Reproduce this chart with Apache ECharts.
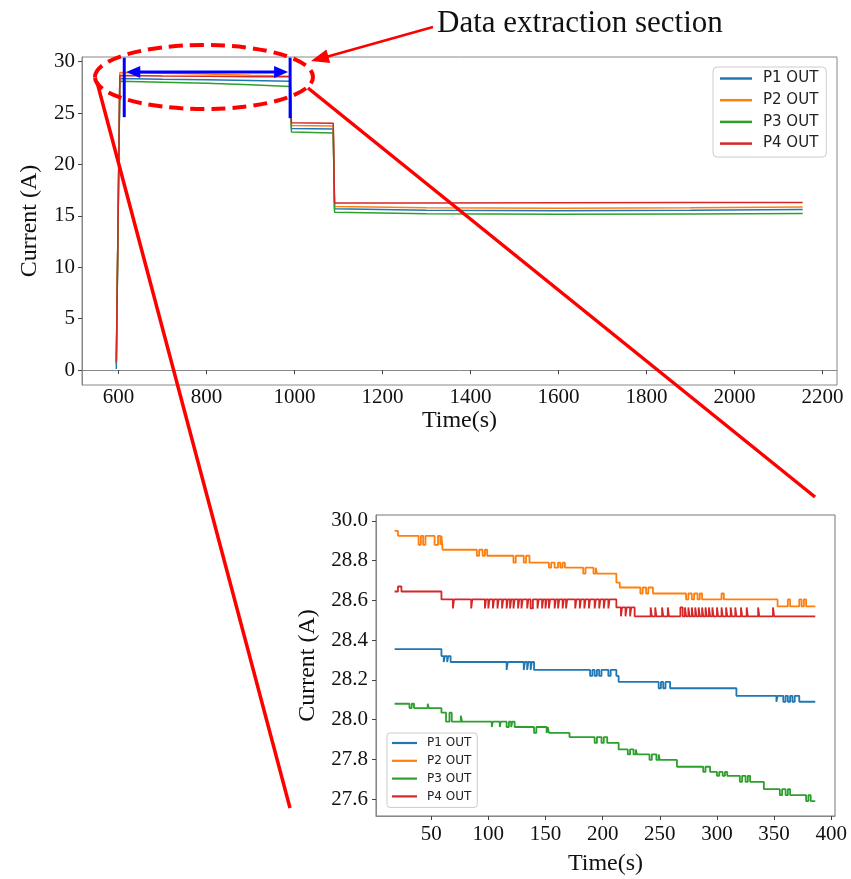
<!DOCTYPE html>
<html>
<head>
<meta charset="utf-8">
<script src="https://cdn.jsdelivr.net/npm/echarts@6/dist/echarts.min.js"></script>
<style>html,body{margin:0;padding:0;background:#fff}#c{width:851px;height:879px}</style>
</head>
<body>
<div id="c"></div>
<script>
// ---------- DATA ----------
const seriesNames = ["P1 OUT", "P2 OUT", "P3 OUT", "P4 OUT"];
const colors = ["#1f77b4", "#ff7f0e", "#2ca02c", "#d62728"];

// Main chart: [time (s), current (A)]
const mainP1 = [[595,0.1],[603,28.35],[700,28.28],[800,28.24],[900,28.17],[990,28.09],[993,23.5],[1088,23.45],[1091,15.7],[1300,15.55],[1600,15.5],[1900,15.55],[2155,15.62]];
const mainP2 = [[595,0.8],[603,28.95],[700,28.86],[800,28.79],[900,28.67],[990,28.57],[993,23.8],[1088,23.75],[1091,15.9],[1300,15.8],[1600,15.75],[1900,15.8],[2155,15.85]];
const mainP3 = [[595,0.6],[603,28.08],[700,27.99],[800,27.9],[900,27.75],[990,27.59],[993,23.15],[1088,23.05],[1091,15.35],[1300,15.2],[1600,15.15],[1900,15.18],[2155,15.22]];
const mainP4 = [[595,0.8],[603,28.65],[700,28.6],[800,28.58],[900,28.53],[990,28.52],[993,24.05],[1088,24.0],[1091,16.25],[1300,16.25],[1600,16.28],[1900,16.3],[2155,16.3]];

// Zoomed section: [time (s), current (A)], value holds until next point
const zoomP1 = [[18,28.355],[59,28.32],[61,28.29],[62,28.32],[64,28.29],[65,28.32],[67,28.29],[116,28.25],[117,28.29],
  [131,28.25],[132,28.29],[134,28.25],[135,28.29],[137,28.25],[138,28.29],[140,28.25],
  [189,28.22],[191,28.25],[193,28.22],[195,28.25],[197,28.22],[199,28.25],[205,28.22],[207,28.25],[212,28.22],[214,28.19],
  [249,28.158],[251,28.19],[253,28.158],[255,28.19],[259,28.158],[317,28.12],
  [352,28.09],[353,28.12],[358,28.09],[360,28.12],[362,28.09],[364,28.12],[366,28.09],[368,28.12],[372,28.09],[386,28.09]];
const zoomP2 = [[18,28.95],[21,28.925],[39,28.88],[41,28.925],[43,28.88],[45,28.925],[53,28.88],[56,28.925],[58,28.88],[59,28.925],[60,28.855],
  [90,28.825],[92,28.855],[95,28.825],[97,28.855],[99,28.825],
  [122,28.79],[124,28.825],[131,28.79],[133,28.825],[136,28.79],
  [153,28.765],[155,28.79],[158,28.765],[161,28.79],[163,28.765],[165,28.79],[167,28.765],
  [183,28.735],[185,28.765],[192,28.735],[194,28.765],[195,28.735],
  [212,28.69],[215,28.665],
  [233,28.635],[235,28.665],[238,28.635],[240,28.665],[244,28.635],
  [273,28.605],[275,28.635],[278,28.605],[280,28.635],[283,28.605],[285,28.635],[287,28.605],[302,28.605],[304,28.635],[306,28.605],
  [353,28.57],[362,28.605],[364,28.57],[372,28.605],[374,28.57],[376,28.605],[378,28.57],[386,28.57]];
const zoomP3 = [[18,28.08],[31,28.058],[33,28.08],[35,28.058],[47,28.08],[48,28.058],[59,28.035],[63,27.99],[66,28.035],[68,27.99],[76,28.02],[77,27.99],
  [103,27.963],[104,27.99],[110,27.963],[111,27.99],[116,27.963],[118,27.99],[120,27.963],[121,27.99],[123,27.963],
  [140,27.933],[142,27.963],[151,27.933],[152,27.963],[153,27.933],[171,27.912],
  [193,27.883],[195,27.912],[199,27.883],[201,27.912],[204,27.883],[214,27.85],
  [222,27.825],[224,27.85],[227,27.825],[229,27.85],[230,27.825],
  [241,27.797],[243,27.825],[247,27.797],[249,27.825],[250,27.797],[265,27.763],
  [288,27.737],[290,27.763],[294,27.737],[300,27.717],[302,27.737],[305,27.717],[307,27.737],[309,27.717],
  [320,27.687],[322,27.717],[325,27.687],[327,27.717],[329,27.687],[341,27.65],
  [355,27.62],[357,27.65],[360,27.62],[362,27.65],[364,27.62],[378,27.59],[380,27.62],[382,27.59],[386,27.59]];
const zoomP4 = [[18,28.645],[21,28.67],[24,28.645],[59,28.605],
  [69,28.56],[70,28.605],[85,28.56],[86,28.605],[97,28.56],[98,28.605],[100,28.56],[101,28.605],[104,28.56],[105,28.605],
  [108,28.56],[109,28.605],[112,28.56],[113,28.605],[116,28.56],[117,28.605],[119,28.56],[120,28.605],[122,28.56],[123,28.605],
  [126,28.56],[127,28.605],[129,28.56],[130,28.605],[134,28.56],[135,28.605],[137,28.56],[139,28.605],
  [143,28.56],[144,28.605],[147,28.56],[148,28.605],[150,28.56],[151,28.605],[153,28.56],[154,28.605],
  [158,28.56],[159,28.605],[161,28.56],[162,28.605],[165,28.56],[166,28.605],[168,28.56],[169,28.605],
  [176,28.56],[177,28.605],[180,28.56],[181,28.605],[184,28.56],[185,28.605],[188,28.56],[189,28.605],
  [193,28.56],[194,28.605],[197,28.56],[198,28.605],[201,28.56],[202,28.605],[205,28.56],[206,28.605],
  [212,28.565],[216,28.52],[217,28.565],[220,28.52],[221,28.565],[224,28.52],[225,28.565],[228,28.52],
  [242,28.565],[243,28.52],[246,28.565],[247,28.52],[252,28.565],[253,28.52],[257,28.565],[258,28.52],
  [268,28.565],[270,28.52],[272,28.565],[273,28.52],[275,28.565],[276,28.52],[278,28.565],[279,28.52],[281,28.565],[282,28.52],
  [284,28.565],[285,28.52],[287,28.565],[288,28.52],[290,28.565],[291,28.52],[293,28.565],[294,28.52],[296,28.565],[297,28.52],
  [300,28.565],[301,28.52],[304,28.565],[305,28.52],[308,28.565],[309,28.52],[312,28.565],[313,28.52],[316,28.565],[317,28.52],
  [321,28.565],[322,28.52],[326,28.565],[327,28.52],[336,28.565],[337,28.52],[349,28.565],[350,28.52],[386,28.52]];

const mainXTicks = [600, 800, 1000, 1200, 1400, 1600, 1800, 2000, 2200];
const mainYTicks = [0, 5, 10, 15, 20, 25, 30];
const zoomXTicks = [50, 100, 150, 200, 250, 300, 350, 400];
const zoomYTicks = [27.6, 27.8, 28.0, 28.2, 28.4, 28.6, 28.8, 29.0];
const zoomYTickLabels = ["27.6", "27.8", "28.0", "28.2", "28.4", "28.6", "28.8", "30.0"];

const xTitle = "Time(s)";
const yTitle = "Current (A)";
const annotationText = "Data extraction section";
const sectionStart = 613, sectionEnd = 990;

// ---------- CHART ----------
const serif = "'Liberation Serif', 'Times New Roman', serif";
const sans = "'DejaVu Sans', sans-serif";
const chart = echarts.init(document.getElementById('c'), null, {renderer: 'canvas'});

function axisCommon(ticks, fmt, margin) {
  return {
    axisLine: {show: true, lineStyle: {color: '#888', width: 1}},
    axisTick: {show: true, length: 4, customValues: ticks, lineStyle: {color: '#444'}},
    axisLabel: {customValues: ticks, color: '#111', fontFamily: serif, fontSize: 21, formatter: fmt, margin: margin},
    splitLine: {show: false}
  };
}

const mainData = [mainP1, mainP2, mainP3, mainP4];
const zoomData = [zoomP1, zoomP2, zoomP3, zoomP4];
const series = [];
seriesNames.forEach((n, i) => {
  series.push({name: n, type: 'line', xAxisIndex: 0, yAxisIndex: 0, data: mainData[i], showSymbol: false,
    lineStyle: {width: 1.5, color: colors[i]}, itemStyle: {color: colors[i]}, z: 2 + i});
});
seriesNames.forEach((n, i) => {
  series.push({name: n, type: 'line', xAxisIndex: 1, yAxisIndex: 1, data: zoomData[i], showSymbol: false, step: 'end',
    lineStyle: {width: 1.8, color: colors[i]}, itemStyle: {color: colors[i]}, z: 2 + i});
});

const option = {
  animation: false,
  backgroundColor: '#fff',
  grid: [
    {left: 82, top: 57, width: 755, height: 328, show: true, borderColor: '#888', borderWidth: 1},
    {left: 376, top: 515, width: 459, height: 301, show: true, borderColor: '#777', borderWidth: 1}
  ],
  xAxis: [
    Object.assign({type: 'value', gridIndex: 0, min: 517, max: 2233, name: xTitle, nameLocation: 'middle', nameGap: 18,
      nameTextStyle: {fontFamily: serif, fontSize: 24, color: '#111'}}, axisCommon(mainXTicks, v => String(v), 2)),
    Object.assign({type: 'value', gridIndex: 1, min: 1.75, max: 403.25, name: xTitle, nameLocation: 'middle', nameGap: 36,
      nameTextStyle: {fontFamily: serif, fontSize: 24, color: '#111'}}, axisCommon(zoomXTicks, v => String(v), 8))
  ],
  yAxis: [
    Object.assign({type: 'value', gridIndex: 0, min: -1.45, max: 30.45, name: yTitle, nameLocation: 'middle', nameGap: 40,
      nameTextStyle: {fontFamily: serif, fontSize: 24, color: '#111'}}, axisCommon(mainYTicks, v => String(v), 7)),
    Object.assign({type: 'value', gridIndex: 1, min: 27.515, max: 29.03, name: yTitle, nameLocation: 'middle', nameGap: 56,
      nameTextStyle: {fontFamily: serif, fontSize: 24, color: '#111'}}, axisCommon(zoomYTicks, v => {
        let best = 0;
        zoomYTicks.forEach((t, k) => { if (Math.abs(t - v) < Math.abs(zoomYTicks[best] - v)) best = k; });
        return zoomYTickLabels[best];
      }, 8))
  ],
  legend: [
    {data: seriesNames, orient: 'vertical', left: 713, top: 67, padding: [4, 8, 6, 7], itemGap: 6.7,
      itemWidth: 32, itemHeight: 2.5, icon: 'rect', borderColor: '#ccc', borderWidth: 1, borderRadius: 4,
      backgroundColor: 'rgba(255,255,255,0.85)', selectedMode: false,
      textStyle: {fontFamily: sans, fontSize: 15, lineHeight: 15, color: '#222', padding: [0, 0, 0, 6]}},
    {data: seriesNames, orient: 'vertical', left: 387, top: 733, padding: [4, 6, 5, 5], itemGap: 5.8,
      itemWidth: 25, itemHeight: 2.2, icon: 'rect', borderColor: '#ccc', borderWidth: 1, borderRadius: 3,
      backgroundColor: 'rgba(255,255,255,0.85)', selectedMode: false,
      textStyle: {fontFamily: sans, fontSize: 12, lineHeight: 12, color: '#222', padding: [0, 0, 0, 5]}}
  ],
  series: series
};
chart.setOption(option);

// ---------- ANNOTATIONS ----------
const pA = chart.convertToPixel({xAxisIndex: 0, yAxisIndex: 0}, [sectionStart, 30.38]);
const pB = chart.convertToPixel({xAxisIndex: 0, yAxisIndex: 0}, [sectionStart, 24.6]);
const pC = chart.convertToPixel({xAxisIndex: 0, yAxisIndex: 0}, [sectionEnd, 30.38]);
const pD = chart.convertToPixel({xAxisIndex: 0, yAxisIndex: 0}, [sectionEnd, 24.5]);
const pArr = chart.convertToPixel({xAxisIndex: 0, yAxisIndex: 0}, [sectionStart, 29.0]);
const ay = pArr[1];
const lx = pA[0] + 2, rx = pC[0] - 2, ah = 14, aw = 6;

function arrowHead(tipX, tipY, fromX, fromY, len, half, color) {
  const dx = fromX - tipX, dy = fromY - tipY, L = Math.hypot(dx, dy);
  const ux = dx / L, uy = dy / L, nx = -uy, ny = ux;
  const bx = tipX + ux * len, by = tipY + uy * len;
  return {type: 'polygon', z: 100, shape: {points: [[tipX, tipY], [bx + nx * half, by + ny * half], [bx - nx * half, by - ny * half]]},
    style: {fill: color}};
}

chart.setOption({
  graphic: [
    {type: 'ellipse', z: 100, shape: {cx: 204, cy: 77, rx: 109, ry: 32},
      style: {fill: 'none', stroke: '#ff0000', lineWidth: 4, lineDash: [14, 7]}},
    {type: 'line', z: 100, shape: {x1: pA[0], y1: pA[1], x2: pB[0], y2: pB[1]}, style: {stroke: '#0000ff', lineWidth: 3}},
    {type: 'line', z: 100, shape: {x1: pC[0], y1: pC[1], x2: pD[0], y2: pD[1]}, style: {stroke: '#0000ff', lineWidth: 3}},
    {type: 'line', z: 100, shape: {x1: lx + ah - 2, y1: ay, x2: rx - ah + 2, y2: ay}, style: {stroke: '#0000ff', lineWidth: 3}},
    arrowHead(lx, ay, rx, ay, ah, aw, '#0000ff'),
    arrowHead(rx, ay, lx, ay, ah, aw, '#0000ff'),
    {type: 'line', z: 100, shape: {x1: 97, y1: 82, x2: 290, y2: 808}, style: {stroke: '#ff0000', lineWidth: 3.5}},
    {type: 'line', z: 100, shape: {x1: 308, y1: 88, x2: 815, y2: 497}, style: {stroke: '#ff0000', lineWidth: 3.5}},
    {type: 'line', z: 100, shape: {x1: 433, y1: 27, x2: 326, y2: 57}, style: {stroke: '#ff0000', lineWidth: 2.5}},
    arrowHead(311, 61, 433, 27, 18, 7, '#ff0000'),
    {type: 'text', z: 100, left: 437, top: 8, style: {text: annotationText, fontFamily: serif, fontSize: 31, fill: '#111'}}
  ]
});
</script>
</body>
</html>
